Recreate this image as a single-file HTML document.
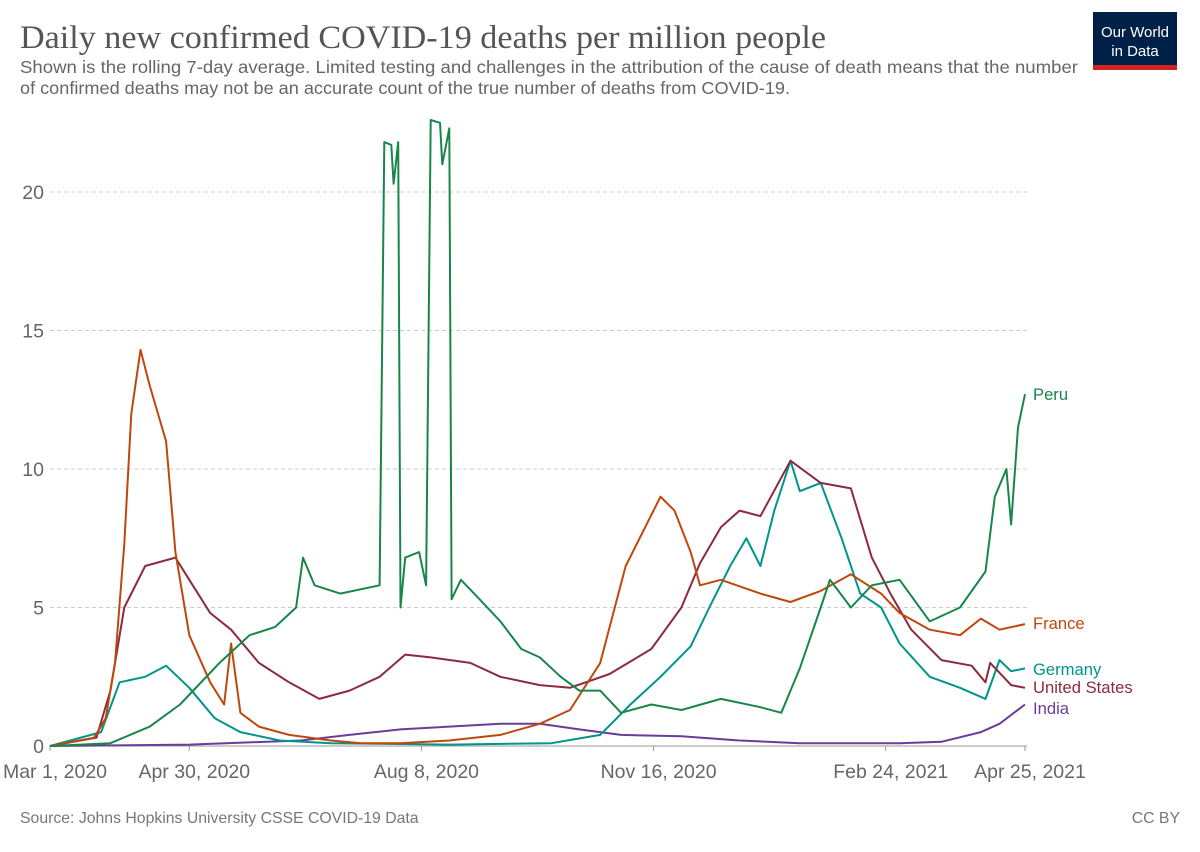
<!DOCTYPE html>
<html><head><meta charset="utf-8"><style>
body{margin:0;background:#fff;width:1200px;height:847px;overflow:hidden;font-family:"Liberation Sans",sans-serif}
</style></head><body>
<svg width="1200" height="847" viewBox="0 0 1200 847" id="svg">
<text x="20" y="48" font-family="Liberation Serif,serif" font-size="33" fill="#555" textLength="806" lengthAdjust="spacingAndGlyphs">Daily new confirmed COVID-19 deaths per million people</text>
<text x="20" y="73" font-size="17.5" fill="#666" textLength="1058" lengthAdjust="spacingAndGlyphs">Shown is the rolling 7-day average. Limited testing and challenges in the attribution of the cause of death means that the number</text>
<text x="20" y="94" font-size="17.5" fill="#666" textLength="770" lengthAdjust="spacingAndGlyphs">of confirmed deaths may not be an accurate count of the true number of deaths from COVID-19.</text>
<g>
<rect x="1093" y="12" width="84" height="58" fill="#002147"/>
<rect x="1093" y="65" width="84" height="5" fill="#ce261e"/>
<text x="1135" y="37" font-size="15" fill="#fff" text-anchor="middle">Our World</text>
<text x="1135" y="56" font-size="15" fill="#fff" text-anchor="middle">in Data</text>
</g>
<g id="grid"></g><g id="lines"></g>
<text x="20" y="823" font-size="15.8" fill="#777">Source: Johns Hopkins University CSSE COVID-19 Data</text>
<text x="1180" y="823" font-size="15.8" fill="#777" text-anchor="end">CC BY</text>
</svg>
<script>
const yTicks=[0,5,10,15,20];
const xTickDays=[0,60,160,260,360,420];
const xTickLabels=["Mar 1, 2020","Apr 30, 2020","Aug 8, 2020","Nov 16, 2020","Feb 24, 2021","Apr 25, 2021"];
const seriesNames=["Peru","France","Germany","United States","India"];
const peruDays=[0,26,43,56,73,86,97,106,109,114,125,142,144,147,148,150,151,153,159,162,164,168,169,172,173,177,185,194,203,211,220,228,237,246,259,272,289,306,315,323,332,336,345,354,366,379,392,403,407,412,414,417,420];
const peruVals=[0,0.1,0.7,1.5,3,4,4.3,5,6.8,5.8,5.5,5.8,21.8,21.7,20.3,21.8,5,6.8,7,5.8,22.6,22.5,21,22.3,5.3,6,5.3,4.5,3.5,3.2,2.5,2,2,1.2,1.5,1.3,1.7,1.4,1.2,2.8,5,6,5,5.8,6,4.5,5,6.3,9,10,8,11.5,12.7];
const franceDays=[0,19,24,28,32,35,39,43,50,54,60,69,75,78,82,90,103,121,134,151,172,194,211,224,237,248,254,263,269,276,280,289,306,319,332,345,358,366,379,392,401,409,420];
const franceVals=[0,0.3,1,3,7.3,12,14.3,13,11,7,4,2.3,1.5,3.7,1.2,0.7,0.4,0.2,0.1,0.1,0.2,0.4,0.8,1.3,3,6.5,7.5,9,8.5,7,5.8,6,5.5,5.2,5.6,6.2,5.5,4.8,4.2,4,4.6,4.2,4.4];
const germanyDays=[0,22,30,41,50,60,71,82,99,121,172,216,237,250,263,276,284,293,300,306,312,319,323,332,341,349,358,366,379,392,403,409,414,420];
const germanyVals=[0,0.5,2.3,2.5,2.9,2.1,1,0.5,0.2,0.1,0.05,0.1,0.4,1.5,2.5,3.6,5,6.5,7.5,6.5,8.5,10.3,9.2,9.5,7.5,5.5,5,3.7,2.5,2.1,1.7,3.1,2.7,2.8];
const usDays=[0,20,26,32,41,54,60,69,78,90,103,116,129,142,153,164,181,194,211,224,241,259,272,280,289,297,306,319,332,345,354,362,371,384,397,403,405,414,420];
const usVals=[0,0.3,2,5,6.5,6.8,6,4.8,4.2,3,2.3,1.7,2,2.5,3.3,3.2,3,2.5,2.2,2.1,2.6,3.5,5,6.6,7.9,8.5,8.3,10.3,9.5,9.3,6.8,5.5,4.2,3.1,2.9,2.3,3,2.2,2.1];
const indiaDays=[0,60,108,129,151,172,194,211,228,246,272,297,323,366,384,401,409,420];
const indiaVals=[0,0.05,0.2,0.4,0.6,0.7,0.8,0.8,0.6,0.4,0.35,0.2,0.1,0.1,0.15,0.5,0.8,1.5];
const colors=["#18864b","#c0470c","#00948e","#8c2a3e","#6a3d9a"];
const NS="http://www.w3.org/2000/svg";
const X=d=>50+d*975/420, Y=v=>746-v*27.7;
const grid=document.getElementById('grid'), lines=document.getElementById('lines');
function mk(t,a,p){const e=document.createElementNS(NS,t);for(const k in a)e.setAttribute(k,a[k]);p.appendChild(e);return e;}
yTicks.forEach(v=>{
 if(v>0){const l=mk('line',{x1:50,x2:1027,y1:Y(v),y2:Y(v),stroke:'#ccc','stroke-dasharray':'4,3'},grid);
 
 }
 const t=mk('text',{x:44,y:Y(v)+7,'font-size':19.5,fill:'#666','text-anchor':'end'},grid);t.textContent=v;
 
 
});
const ax=mk('line',{x1:50,x2:1027,y1:746,y2:746,stroke:'#999'},grid);


xTickDays.forEach((d,i)=>{
 mk('line',{x1:X(d),x2:X(d),y1:746,y2:751,stroke:'#999'},grid);
 const t=mk('text',{x:X(d)+5,y:778,'font-size':19.5,fill:'#666','text-anchor':'middle'},grid);t.textContent=xTickLabels[i];
 
 
});
const D=[peruDays,franceDays,germanyDays,usDays,indiaDays],V=[peruVals,franceVals,germanyVals,usVals,indiaVals];
const labelY=[400,629,675,693,714];
[4,2,3,1,0].forEach(i=>{
 const pts=D[i].map((d,j)=>X(d).toFixed(1)+','+Y(V[i][j]).toFixed(1)).join(' ');
 const p=mk('polyline',{points:pts,fill:'none',stroke:colors[i],'stroke-width':2,'stroke-linejoin':'round'},lines);
 
 
 const t=mk('text',{x:1033,y:labelY[i],'font-size':16.6,fill:colors[i]},lines);t.textContent=seriesNames[i];
 
 
});
</script>
</body></html>
